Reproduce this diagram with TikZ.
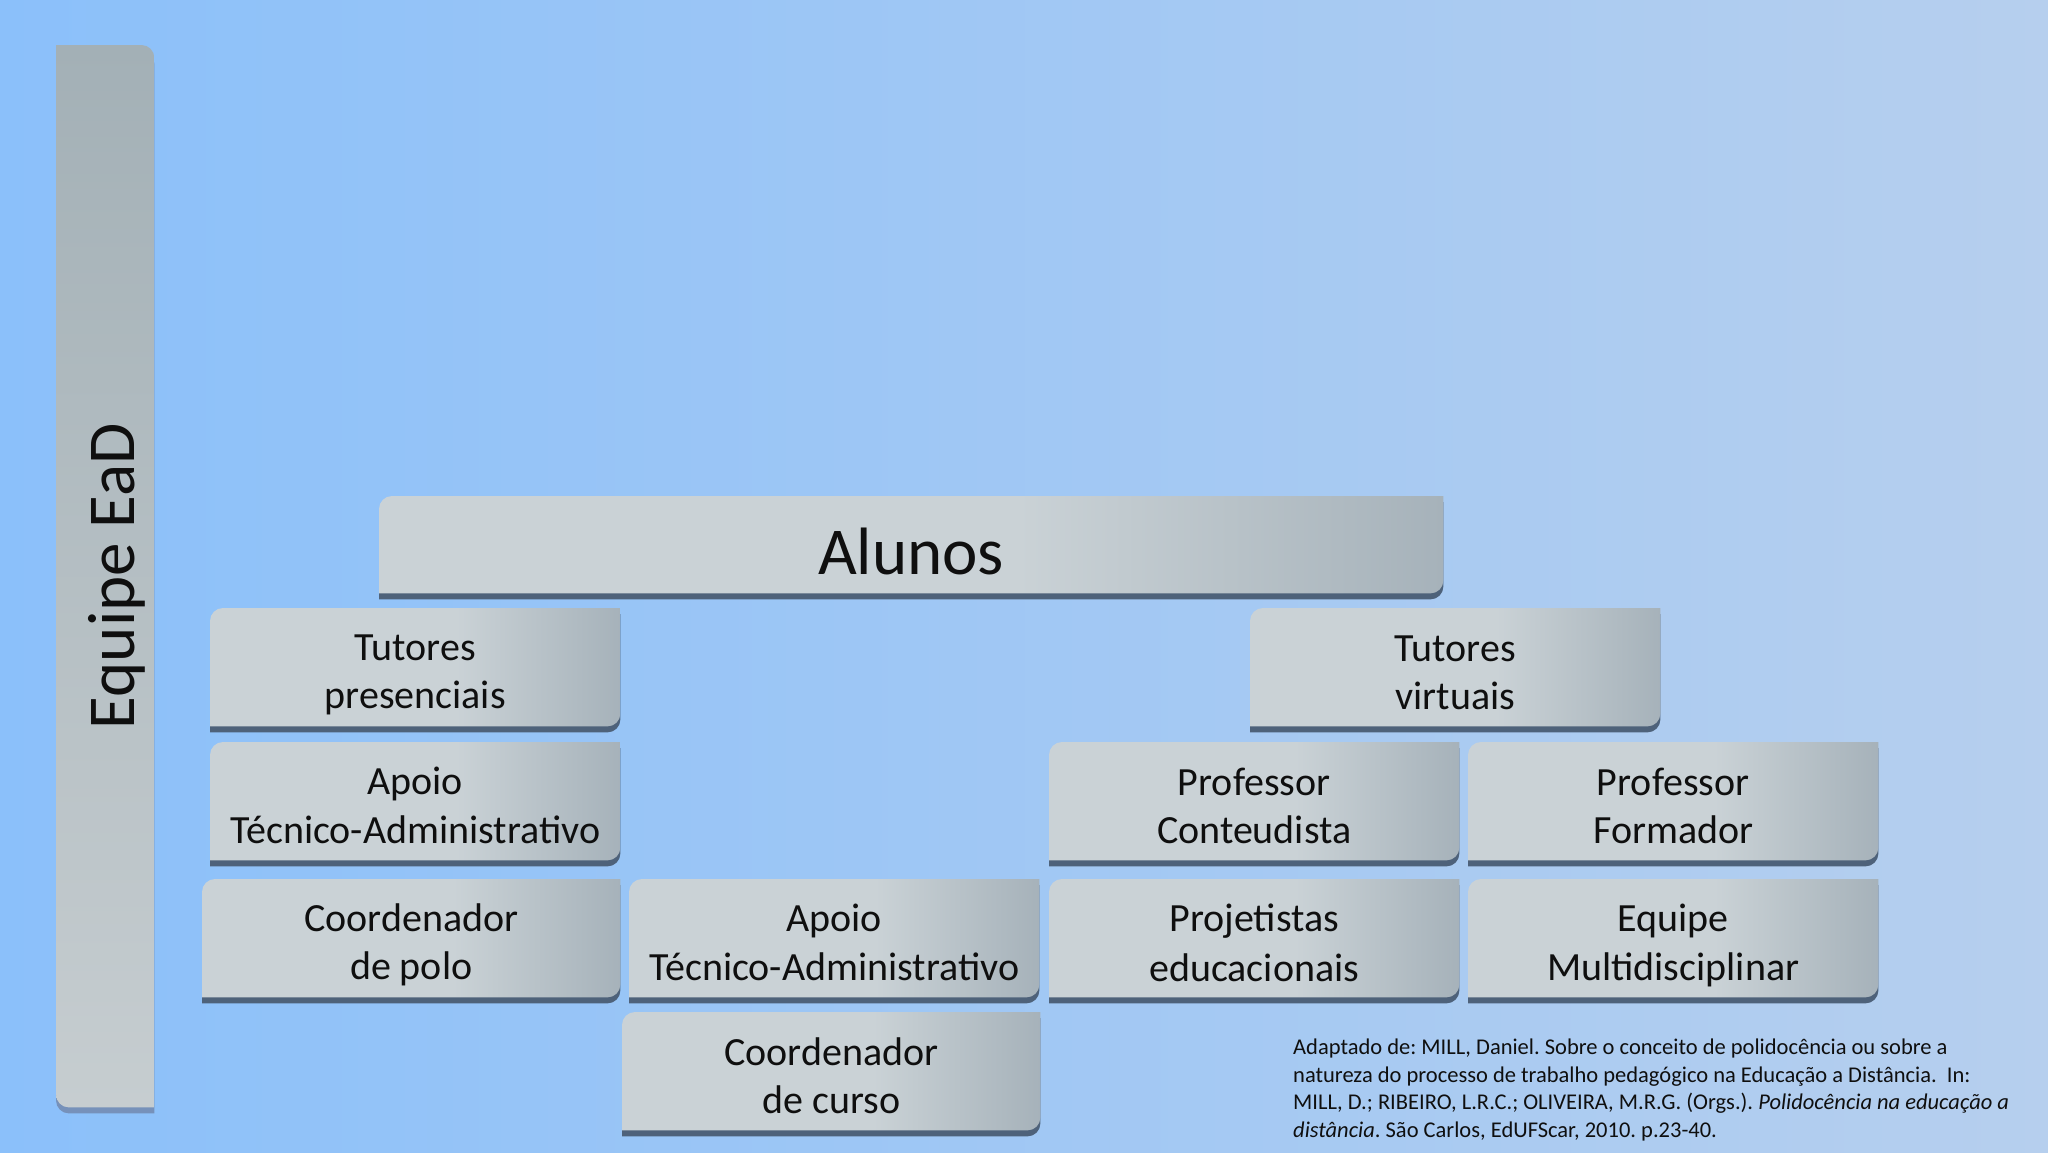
\documentclass[tikz,border=0pt]{standalone}
\usepackage{fontspec}
\setmainfont{Carlito}
\frenchspacing
\definecolor{slideleft}{RGB}{139,192,250}
\definecolor{slideright}{RGB}{182,207,238}
\definecolor{boxlight}{RGB}{202,210,214}
\definecolor{boxdark}{RGB}{166,178,186}
\definecolor{boxshadow}{RGB}{78,98,122}
\definecolor{bartop}{RGB}{163,176,182}
\definecolor{barbottom}{RGB}{198,205,208}
\definecolor{barshadow}{RGB}{118,145,186}
\definecolor{inkblack}{RGB}{15,15,15}
\usetikzlibrary{positioning}
\pgfdeclarelayer{back}
\pgfsetlayers{back,main}
\pgfdeclarehorizontalshading{boxface}{100bp}{color(0bp)=(boxlight);
  color(25bp)=(boxlight); color(55bp)=(boxlight); color(75bp)=(boxdark);
  color(100bp)=(boxdark)}
\newcommand{\rstrut}{\rule[-6pt]{0pt}{48pt}}

\begin{document}
\begin{tikzpicture}[
    x=1pt,y=-1pt,
    role/.style={align=center,inner sep=0pt,anchor=north west,
      font=\fontsize{40}{48}\selectfont,text=inkblack,
      minimum width=410pt,minimum height=118pt},
    wide/.style={minimum width=418pt},
    big/.style={font=\fontsize{67}{70}\selectfont,text=inkblack},
    dropshadow/.style={transform canvas={yshift=-6pt}}
  ]
  \useasboundingbox (0,0) rectangle (2048,1152);

  \node[inner sep=0pt,anchor=north west,minimum width=98pt,
    minimum height=1062pt] (bar) at (56,45) {};
  \node[big,rotate=90,anchor=base] (team) at (134,576) {Equipe EaD};

  \node[role,big,minimum width=1064pt,minimum height=97pt,
    text height=60pt,text depth=0pt] (alunos) at (379,496) {Alunos};
  \node[role] (tutpres) at (210,608) {\rstrut Tutores\\\rstrut presenciais};
  \node[role] (tutvirt) at (1250,608) {\rstrut Tutores\\\rstrut virtuais};
  \node[role] (apoiopolo) at (210,742)
  {\rstrut Apoio\\\rstrut Técnico-Administrativo};
  \node[role] (profcont) at (1049,742) {\rstrut Professor\\\rstrut Conteudista};
  \node[role] (profform) at (1468,742) {\rstrut Professor\\\rstrut Formador};
  \node[role,wide] (coordpolo) at (202,879) {\rstrut Coordenador\\\rstrut de polo};
  \node[role] (apoiocurso) at (629,879)
  {\rstrut Apoio\\\rstrut Técnico-Administrativo};
  \node[role] (projet) at (1049,879) {\rstrut Projetistas\\\rstrut educacionais};
  \node[role] (multi) at (1468,879) {\rstrut Equipe\\\rstrut Multidisciplinar};
  \node[role,wide] (coordcurso) at (622,1012) {\rstrut Coordenador\\\rstrut de curso};

  \node[anchor=north west,align=left,inner sep=0pt,text=inkblack,
    font=\fontsize{22.5}{27.4}\selectfont] (source) at (1293,1039)
  {Adaptado de: MILL, Daniel. Sobre o conceito de polidocência ou sobre a\\
    natureza do processo de trabalho pedagógico na Educação a Distância.\ \ In:\\
    MILL, D.; RIBEIRO, L.R.C.; OLIVEIRA, M.R.G. (Orgs.). \textit{Polidocência na educação a}\\
    \textit{distância}. São Carlos, EdUFScar, 2010. p.23-40.};

  \begin{pgfonlayer}{back}
    \shade[left color=slideleft,right color=slideright] (0,0) rectangle (2048,1152);
    \fill[barshadow,dropshadow] (bar.north west) -- ([xshift=-13pt]bar.north east)
    arc[start angle=90,end angle=0,radius=13pt] -- (bar.south east)
    -- ([xshift=13pt]bar.south west) arc[start angle=270,end angle=180,radius=13pt]
    -- cycle;
    \shade[top color=bartop,bottom color=barbottom] (bar.north west)
    -- ([xshift=-13pt]bar.north east) arc[start angle=90,end angle=0,radius=13pt]
    -- (bar.south east) -- ([xshift=13pt]bar.south west)
    arc[start angle=270,end angle=180,radius=13pt] -- cycle;
    \foreach \n in {alunos,tutpres,tutvirt,apoiopolo,profcont,profform,
      coordpolo,apoiocurso,projet,multi,coordcurso} {
      \fill[boxshadow,dropshadow] (\n.south west) -- ([yshift=-13pt]\n.north west)
      arc[start angle=180,end angle=90,radius=13pt] -- (\n.north east)
      -- ([yshift=13pt]\n.south east) arc[start angle=0,end angle=-90,radius=13pt]
      -- cycle;
      \shade[shading=boxface] (\n.south west) -- ([yshift=-13pt]\n.north west)
      arc[start angle=180,end angle=90,radius=13pt] -- (\n.north east)
      -- ([yshift=13pt]\n.south east) arc[start angle=0,end angle=-90,radius=13pt]
      -- cycle;
    }
  \end{pgfonlayer}
\end{tikzpicture}
\end{document}
